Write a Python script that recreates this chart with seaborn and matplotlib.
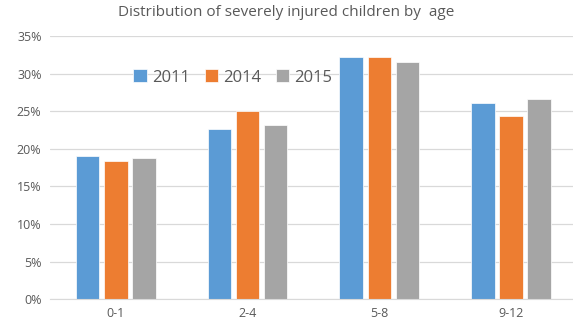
import matplotlib
matplotlib.use("Agg")
import matplotlib.pyplot as plt
from matplotlib.ticker import PercentFormatter
import seaborn as sns
import pandas as pd

# values (share of severely injured children)
age_groups = ["0-1", "2-4", "5-8", "9-12"]
years = ["2011", "2014", "2015"]
share_2011 = [0.191, 0.227, 0.322, 0.261]
share_2014 = [0.184, 0.250, 0.322, 0.244]
share_2015 = [0.188, 0.232, 0.316, 0.266]

palette = ["#5B9BD5", "#ED7D31", "#A5A5A5"]
text_grey = "#595959"

rows = []
for year, vals in zip(years, [share_2011, share_2014, share_2015]):
    for age, v in zip(age_groups, vals):
        rows.append({"age": age, "year": year, "share": v})
df = pd.DataFrame(rows)

sns.set_style("white")
plt.rcParams["font.family"] = ["Open Sans", "DejaVu Sans"]

fig = plt.figure(figsize=(5.73, 3.22), dpi=100)
ax = fig.add_axes([0.087, 0.071, 0.92, 0.817])

sns.barplot(data=df, x="age", y="share", hue="year", order=age_groups,
            hue_order=years, palette=palette, width=0.64, saturation=1,
            edgecolor="white", linewidth=0.5, ax=ax)

# leave a white gap between the bars of a group, like the original
for p in ax.patches:
    w = p.get_width()
    p.set_x(p.get_x() + w * 0.08)
    p.set_width(w * 0.84)

ax.set_ylim(0, 0.35)
ax.set_yticks([i * 0.05 for i in range(8)])
ax.yaxis.set_major_formatter(PercentFormatter(1.0, decimals=0))
ax.grid(axis="y", color="#D9D9D9", linewidth=0.9)
ax.set_axisbelow(True)
for s in ["top", "right", "left"]:
    ax.spines[s].set_visible(False)
ax.spines["bottom"].set_color("#D9D9D9")
ax.tick_params(axis="both", length=0, labelsize=9, colors=text_grey, pad=6)
ax.set_xlabel("")
ax.set_ylabel("")

fig.suptitle("Distribution of severely injured children by  age", y=0.985,
             fontsize=11, color=text_grey)

ax.legend(loc="upper left", bbox_to_anchor=(0.13, 0.93), ncol=3, frameon=False,
          fontsize=12, labelcolor=text_grey, handlelength=0.8, handleheight=0.8,
          handletextpad=0.3, columnspacing=0.9)

fig.savefig("out.png", dpi=100)
